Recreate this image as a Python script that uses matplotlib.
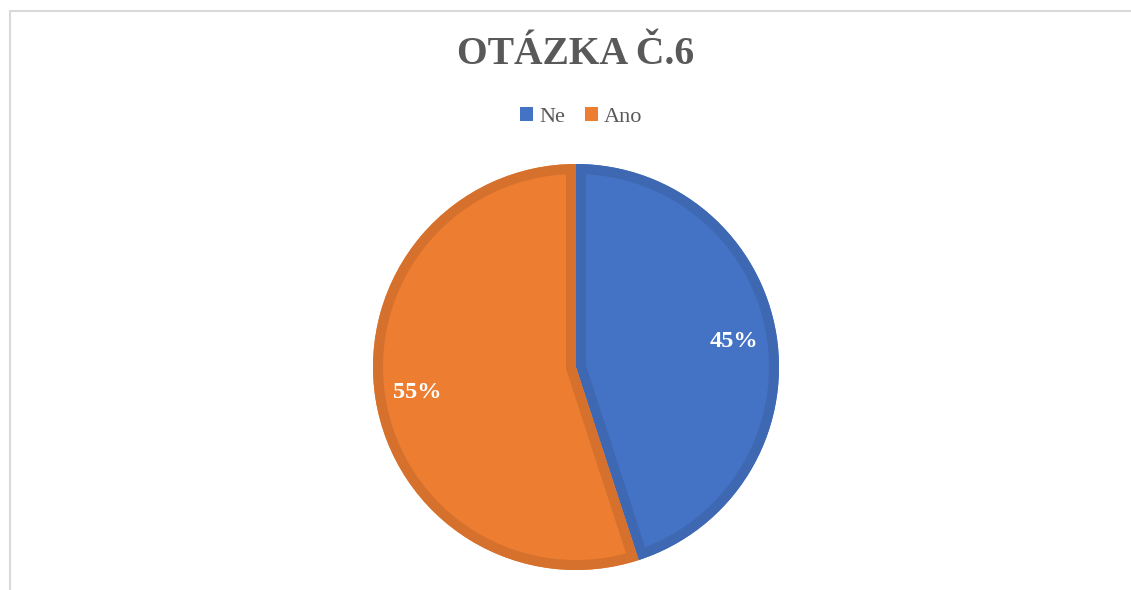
import matplotlib
matplotlib.use("Agg")
import matplotlib.pyplot as plt
from matplotlib.patches import Rectangle, Wedge

title = "OTÁZKA Č.6"
categories = ["Ne", "Ano"]
values = [45, 55]
colors = ["#4472C4", "#ED7D31"]
edge_colors = ["#3F68B3", "#D6712D"]

W, H = 1131, 590
fig = plt.figure(figsize=(W / 100, H / 100), dpi=100)
fig.patch.set_facecolor("white")

# chart area border (light gray, only top and left visible)
fig.patches.append(Rectangle((9.5 / W, -0.1), 1.2, (H - 10.5) / H + 0.1,
                             transform=fig.transFigure, fill=False,
                             edgecolor="#D9D9D9", linewidth=1.5))

serif = ["Liberation Serif", "DejaVu Serif"]

fig.text(576 / W, 1 - 54 / H, title, ha="center", va="center",
         fontsize=28.5, fontweight="bold", color="#595959", family=serif)

# pie axes: outer radius 203 px centered at (576, 367)
R = 203
cx, cy = 576, 367
ax = fig.add_axes([(cx - R) / W, (H - cy - R) / H, 2 * R / W, 2 * R / H])
lw_px = 10
wedges, texts, autotexts = ax.pie(
    values, colors=colors, startangle=90, counterclock=False,
    radius=1.0, autopct="%1.0f%%", pctdistance=0.79,
    wedgeprops=dict(linewidth=0),
    textprops=dict(color="white", fontsize=17.5, fontweight="bold", family=serif))
# inner strokes: double-width edge clipped to the wedge itself
for w, ec in zip(wedges, edge_colors):
    ow = Wedge(w.center, w.r, w.theta1, w.theta2, facecolor="none",
               edgecolor=ec, linewidth=2 * lw_px * 0.72, zorder=w.get_zorder() + 0.1)
    ax.add_patch(ow)
    ow.set_clip_path(w)
for t in autotexts:
    t.set_zorder(5)
ax.set_xlim(-1, 1)
ax.set_ylim(-1, 1)
ax.set_aspect("equal")
ax.axis("off")

leg = fig.legend(wedges, categories, loc="center", bbox_to_anchor=(581 / W, 1 - 117 / H),
                 ncol=2, frameon=False, handlelength=0.6, handleheight=0.6,
                 handletextpad=0.25, columnspacing=0.9,
                 prop=dict(family=serif, size=16))
for t in leg.get_texts():
    t.set_color("#595959")
for h, c in zip(leg.legend_handles, colors):
    h.set_edgecolor(c)
    h.set_facecolor(c)
    h.set_linewidth(0)

fig.savefig("out.png", dpi=100)
